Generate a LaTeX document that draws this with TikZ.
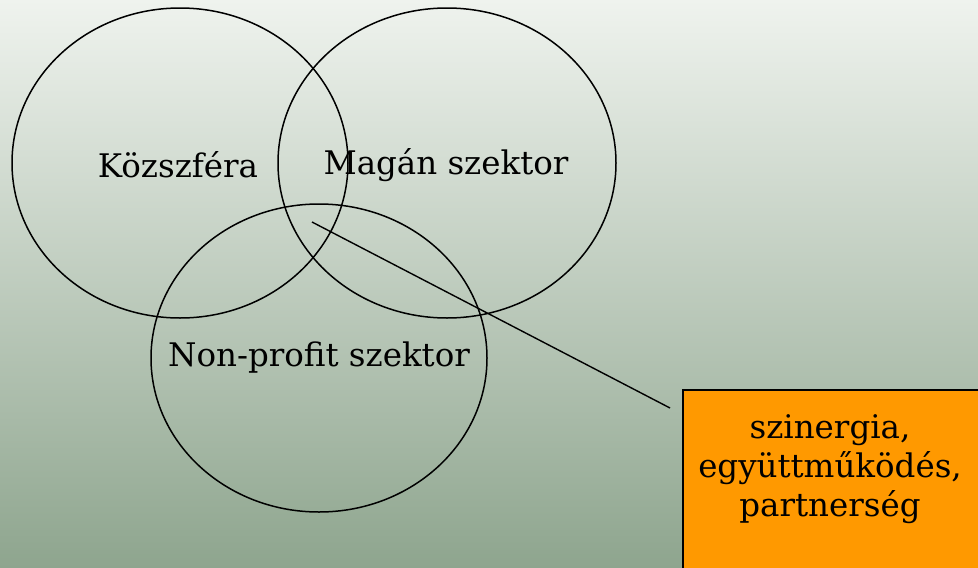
\documentclass[tikz,border=0pt]{standalone}
\usepackage{fontspec}
\setmainfont{DejaVu Serif}
\definecolor{bgtop}{RGB}{239,243,238}
\definecolor{bgbot}{RGB}{142,165,142}
\definecolor{boxorange}{RGB}{255,153,0}
\begin{document}
\begin{tikzpicture}[x=1pt,y=-1pt,
  venn/.style={draw=black,line width=1.5pt},
  lbl/.style={font=\fontsize{32.5}{39}\selectfont,inner sep=0pt},
  callout/.style={draw=black,line width=1.3pt,fill=boxorange}]
\useasboundingbox (0,0) rectangle (978,568);
\shade[top color=bgtop,bottom color=bgbot] (0,0) rectangle (978,568);
\draw[venn] (180,163) ellipse [x radius=168, y radius=155];
\draw[venn] (447,163) ellipse [x radius=169, y radius=155];
\draw[venn] (319,358) ellipse [x radius=168, y radius=154];
\node[lbl] (kozszfera) at (178,165) {Közszféra};
\node[lbl] (magan) at (446,165) {Magán szektor};
\node[lbl] (nonprofit) at (319,358) {Non-profit szektor};
\coordinate (overlap) at (312,222);
\draw[callout] (683,390) rectangle (990,580);
\node[lbl,align=center] (syn) at (830,469) {szinergia,\\együttműködés,\\partnerség};
\coordinate (boxcorner) at (670,408);
\draw[line width=1.4pt] (overlap) -- (boxcorner);
\end{tikzpicture}
\end{document}
